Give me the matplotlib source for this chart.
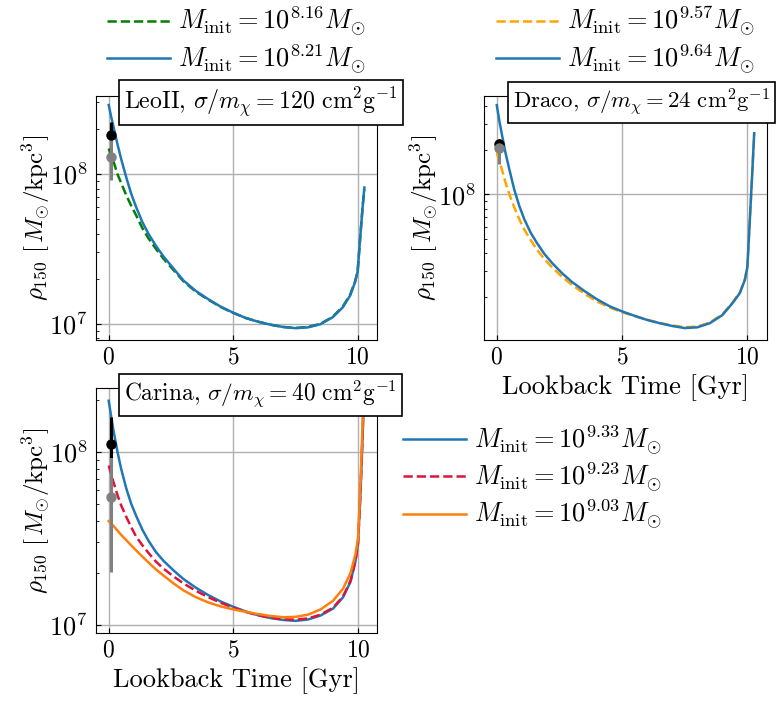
import matplotlib
matplotlib.use('Agg')
import matplotlib.pyplot as plt
import numpy as np
from matplotlib.ticker import NullFormatter

plt.rcParams['font.family'] = 'serif'
plt.rcParams['font.serif'] = ['cmr10']
plt.rcParams['mathtext.fontset'] = 'cm'
plt.rcParams['axes.formatter.use_mathtext'] = True
plt.rcParams['font.size'] = 17
plt.rcParams['ytick.labelsize'] = 19
plt.rcParams['axes.labelsize'] = 19
plt.rcParams['legend.fontsize'] = 19
plt.rcParams['xtick.major.pad'] = 4.5
plt.rcParams['ytick.major.pad'] = 6

# lookback time grid [Gyr]
t = np.array([0.0, 0.1, 0.2, 0.35, 0.5, 0.7, 0.9, 1.1, 1.35, 1.6, 1.9, 2.2, 2.6,
              3.0, 3.5, 4.0, 4.5, 5.0, 5.5, 6.0, 6.5, 7.0, 7.5, 8.0, 8.5, 9.0,
              9.4, 9.7, 9.9, 10.0, 10.1, 10.2, 10.27])

# log10(rho_150 / (Msun/kpc^3))
leo_lo = [8.17, 8.12, 8.08, 8.00, 7.94, 7.86, 7.79, 7.725, 7.64, 7.57, 7.50, 7.435, 7.36,
          7.285, 7.215, 7.162, 7.113, 7.074, 7.04, 7.015, 6.995, 6.98, 6.973, 6.98, 7.0, 7.048,
          7.115, 7.195, 7.285, 7.35, 7.57, 7.78, 7.90]
leo_hi = [8.46, 8.38, 8.31, 8.20, 8.10, 7.98, 7.87, 7.78, 7.68, 7.60, 7.52, 7.45, 7.37,
          7.29, 7.22, 7.165, 7.115, 7.075, 7.04, 7.015, 6.995, 6.98, 6.972, 6.977, 6.998, 7.045,
          7.11, 7.19, 7.28, 7.35, 7.57, 7.78, 7.91]

dra_lo = [8.28, 8.23, 8.17, 8.08, 8.00, 7.91, 7.83, 7.76, 7.69, 7.625, 7.56, 7.505, 7.44,
          7.385, 7.325, 7.272, 7.232, 7.2, 7.173, 7.148, 7.127, 7.11, 7.098, 7.102, 7.13, 7.185,
          7.265, 7.335, 7.425, 7.51, 7.84, 8.17, 8.41]
dra_hi = [8.605, 8.50, 8.41, 8.28, 8.17, 8.03, 7.92, 7.83, 7.74, 7.67, 7.595, 7.535, 7.465,
          7.405, 7.343, 7.287, 7.24, 7.205, 7.175, 7.147, 7.125, 7.106, 7.092, 7.097, 7.125, 7.18,
          7.26, 7.33, 7.42, 7.51, 7.84, 8.17, 8.414]

car_933 = [8.294, 8.20, 8.115, 8.00, 7.90, 7.79, 7.70, 7.63, 7.55, 7.485, 7.42, 7.37, 7.315,
           7.265, 7.215, 7.172, 7.135, 7.105, 7.078, 7.056, 7.04, 7.029, 7.024, 7.032, 7.055, 7.095,
           7.16, 7.25, 7.37, 7.47, 7.76, 8.15, 8.6]
car_923 = [7.92, 7.87, 7.82, 7.75, 7.69, 7.625, 7.565, 7.51, 7.46, 7.415, 7.365, 7.325, 7.28,
           7.24, 7.197, 7.16, 7.128, 7.1, 7.075, 7.056, 7.042, 7.033, 7.031, 7.038, 7.06, 7.10,
           7.165, 7.255, 7.37, 7.47, 7.77, 8.17, 8.6]
car_903 = [7.60, 7.585, 7.57, 7.545, 7.52, 7.49, 7.46, 7.43, 7.395, 7.36, 7.32, 7.285, 7.24,
           7.20, 7.16, 7.13, 7.107, 7.09, 7.076, 7.063, 7.052, 7.045, 7.047, 7.06, 7.09, 7.14,
           7.21, 7.30, 7.41, 7.50, 7.82, 8.22, 8.5]

# observed central densities: value, lower, upper
t_obs = 0.1
leo_obs = {'k': (1.82e8, 1.75e8, 2.23e8), 'grey': (1.30e8, 9.1e7, 1.75e8)}
dra_obs = {'k': (2.18e8, 2.05e8, 2.38e8), 'grey': (2.05e8, 1.61e8, 2.18e8)}
car_obs = {'k': (1.107e8, 9.16e7, 1.59e8), 'grey': (5.5e7, 2.03e7, 9.16e7)}

ylab = r'$\rho_{150}\ [\,M_{\odot}/\mathrm{kpc}^3]$'
xlab = 'Lookback Time [Gyr]'


def mlabel(p):
    return r'$M_{\rm init} = 10^{%s}M_{\odot}$' % p


def setup(ax, ylims, name, fs):
    ax.set_yscale('log')
    ax.set_xlim(-0.51, 10.78)
    ax.set_ylim(10**ylims[0], 10**ylims[1])
    ax.set_xticks([0, 5, 10])
    ax.grid(True, which='major', color='#b0b0b0', lw=1)
    ax.tick_params(which='both', direction='in', top=False, right=False)
    ax.yaxis.set_minor_formatter(NullFormatter())
    ax.set_ylabel(ylab, labelpad=-2, fontsize=18)
    ax.text(0.101, 0.973, name, transform=ax.transAxes, ha='left', va='center', fontsize=fs,
            bbox=dict(boxstyle='square,pad=0.22', fc='white', ec='black', lw=1.2), zorder=6)


def obs(ax, d):
    for c in ['k', 'grey']:
        v, lo, hi = d[c]
        ax.errorbar([t_obs], [v], yerr=[[v - lo], [hi - v]], fmt='o', color=c,
                    ms=6.5, elinewidth=2.2, capsize=0, zorder=4)


def sig(name, s):
    return name + r', $\sigma/m_{\chi} = %s\ \mathrm{cm}^2\mathrm{g}^{-1}$' % s


fig = plt.figure(figsize=(7.8, 7.07), dpi=100)
ax1 = fig.add_axes([0.1231, 0.5191, 0.3603, 0.3451])
ax2 = fig.add_axes([0.6205, 0.5191, 0.3628, 0.3451])
ax3 = fig.add_axes([0.1231, 0.1042, 0.3608, 0.3466])

lw = 1.8
top_leg = dict(loc='lower center', bbox_to_anchor=(0.5, 1.04), frameon=False, borderaxespad=0,
               handlelength=2.4, handletextpad=0.3, labelspacing=0.15)

# Leo II
setup(ax1, (6.893, 8.52), sig('LeoII', '120'), 17.2)
obs(ax1, leo_obs)
ax1.plot(t, 10**np.array(leo_lo), '--', color='green', lw=lw, label=mlabel('8.16'))
ax1.plot(t, 10**np.array(leo_hi), '-', color='#1f77b4', lw=lw, label=mlabel('8.21'))
ax1.legend(**top_leg)

# Draco
setup(ax2, (7.011, 8.667), sig('Draco', '24'), 16.4)
obs(ax2, dra_obs)
ax2.plot(t, 10**np.array(dra_lo), '--', color='orange', lw=lw, label=mlabel('9.57'))
ax2.plot(t, 10**np.array(dra_hi), '-', color='#1f77b4', lw=lw, label=mlabel('9.64'))
ax2.set_xlabel(xlab)
ax2.legend(**top_leg)

# Carina
setup(ax3, (6.952, 8.366), sig('Carina', '40'), 16.9)
obs(ax3, car_obs)
l1, = ax3.plot(t, 10**np.array(car_933), '-', color='#1f77b4', lw=lw, label=mlabel('9.33'))
l2, = ax3.plot(t, 10**np.array(car_923), '--', color='crimson', lw=lw, label=mlabel('9.23'))
l3, = ax3.plot(t, 10**np.array(car_903), '-', color='#ff7f0e', lw=lw, label=mlabel('9.03'))
ax3.set_xlabel(xlab)
fig.legend(handles=[l1, l2, l3], loc='center left', bbox_to_anchor=(0.503, 0.325),
           frameon=False, borderaxespad=0, handlelength=2.4, handletextpad=0.3, labelspacing=0.15)

fig.savefig('out.png', dpi=100)
